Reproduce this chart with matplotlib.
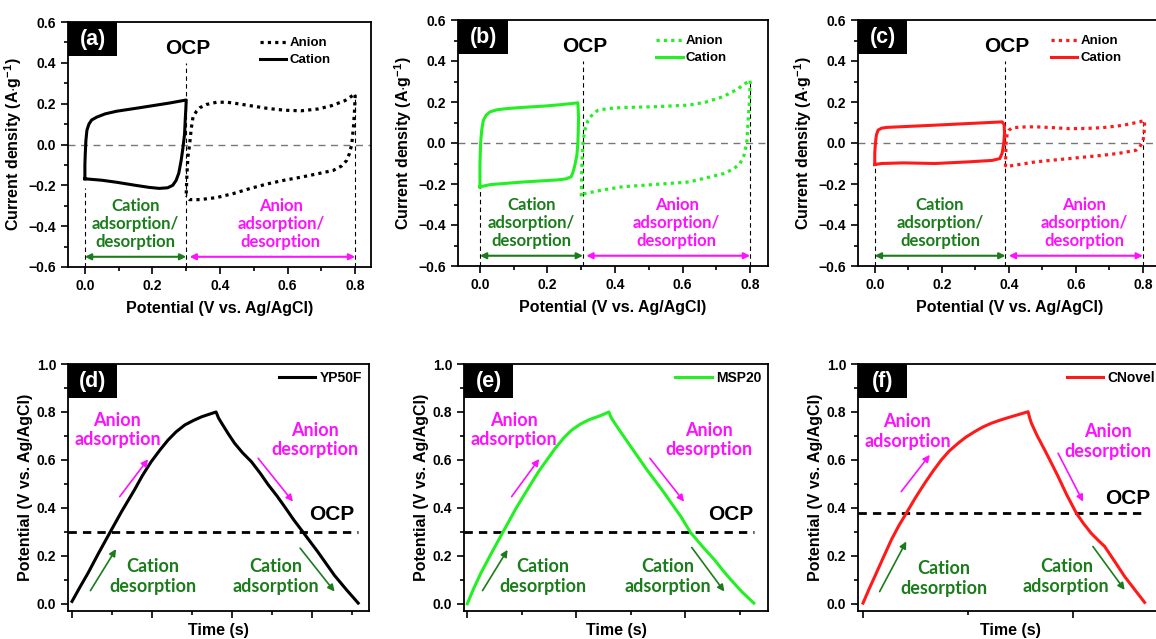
import numpy as np
import matplotlib.pyplot as plt
from matplotlib.ticker import MultipleLocator, AutoMinorLocator, NullFormatter
from matplotlib.patches import Rectangle

plt.rcParams['font.family'] = ['Liberation Sans', 'DejaVu Sans']
plt.rcParams['font.weight'] = 'bold'
plt.rcParams['axes.labelweight'] = 'bold'
plt.rcParams['mathtext.fontset'] = 'custom'
plt.rcParams['mathtext.rm'] = 'Liberation Sans:bold'
plt.rcParams['mathtext.bf'] = 'Liberation Sans:bold'
plt.rcParams['mathtext.it'] = 'Liberation Sans:bold'

NOTE_FONT = ['Lato', 'DejaVu Sans']
DKGREEN = '#1b7c1b'
MAGENTA = '#ff10ff'

# ---- CV data (potential V, current A/g), closed loops ----
a_cat_v = [0.0, 0.0, 0.001, 0.003, 0.006, 0.012, 0.02, 0.035, 0.06, 0.094, 0.15, 0.2, 0.25, 0.3,
           0.299, 0.297, 0.295, 0.29, 0.285, 0.278, 0.27, 0.26, 0.245, 0.22, 0.19, 0.15, 0.094, 0.05, 0.0]
a_cat_i = [-0.168, -0.1, -0.05, 0.02, 0.07, 0.10, 0.12, 0.134, 0.15, 0.163, 0.177, 0.19, 0.203, 0.218,
           0.18, 0.12, 0.05, -0.02, -0.078, -0.14, -0.176, -0.2, -0.212, -0.215, -0.21, -0.2, -0.185, -0.175, -0.168]
a_an_v = [0.30, 0.302, 0.305, 0.31, 0.315, 0.32, 0.33, 0.34, 0.36, 0.39, 0.42, 0.44, 0.49, 0.54, 0.59,
          0.64, 0.69, 0.73, 0.77, 0.8, 0.8, 0.798, 0.795, 0.79, 0.783, 0.775, 0.76, 0.735, 0.69, 0.64,
          0.59, 0.54, 0.49, 0.44, 0.39, 0.34, 0.31, 0.30]
a_an_i = [-0.24, -0.15, -0.06, 0.0, 0.08, 0.134, 0.162, 0.18, 0.196, 0.207, 0.207, 0.203, 0.19, 0.177,
          0.168, 0.165, 0.174, 0.19, 0.215, 0.248, 0.23, 0.16, 0.085, 0.0, -0.045, -0.078, -0.105, -0.127,
          -0.143, -0.16, -0.175, -0.193, -0.215, -0.24, -0.26, -0.27, -0.27, -0.25]

b_cat_v = [0.0, 0.0, 0.002, 0.005, 0.01, 0.018, 0.03, 0.05, 0.08, 0.13, 0.19, 0.24, 0.29, 0.292,
           0.291, 0.29, 0.287, 0.28, 0.275, 0.27, 0.255, 0.23, 0.13, 0.03, 0.0]
b_cat_i = [-0.214, -0.1, 0.0, 0.06, 0.11, 0.135, 0.152, 0.162, 0.168, 0.174, 0.18, 0.187, 0.196, 0.128,
           0.05, 0.0, -0.06, -0.116, -0.145, -0.165, -0.175, -0.18, -0.19, -0.203, -0.214]
b_an_v = [0.30, 0.301, 0.302, 0.305, 0.31, 0.32, 0.335, 0.35, 0.38, 0.42, 0.52, 0.62, 0.67, 0.72, 0.76,
          0.8, 0.8, 0.798, 0.795, 0.79, 0.782, 0.77, 0.75, 0.72, 0.67, 0.62, 0.52, 0.42, 0.36, 0.31, 0.30]
b_an_i = [-0.26, -0.17, -0.1, 0.0, 0.06, 0.11, 0.143, 0.16, 0.168, 0.173, 0.177, 0.185, 0.2, 0.226, 0.26,
          0.307, 0.29, 0.2, 0.128, 0.0, -0.06, -0.1, -0.128, -0.15, -0.17, -0.19, -0.202, -0.214, -0.23, -0.247, -0.26]

c_cat_v = [0.0, 0.0, 0.002, 0.005, 0.01, 0.02, 0.035, 0.1, 0.18, 0.28, 0.38, 0.386, 0.387, 0.385,
           0.38, 0.373, 0.35, 0.28, 0.18, 0.085, 0.02, 0.0]
c_cat_i = [-0.105, -0.05, 0.0, 0.04, 0.063, 0.072, 0.076, 0.081, 0.087, 0.095, 0.103, 0.09, 0.046, 0.0,
           -0.05, -0.076, -0.085, -0.092, -0.1, -0.097, -0.1, -0.105]
c_an_v = [0.39, 0.391, 0.392, 0.395, 0.40, 0.41, 0.44, 0.48, 0.53, 0.58, 0.63, 0.68, 0.74, 0.79, 0.805,
          0.805, 0.803, 0.8, 0.79, 0.78, 0.73, 0.68, 0.58, 0.48, 0.40, 0.39]
c_an_i = [-0.116, -0.05, 0.0, 0.046, 0.062, 0.074, 0.078, 0.079, 0.075, 0.07, 0.071, 0.075, 0.086, 0.103,
          0.11, 0.08, 0.04, 0.005, -0.02, -0.035, -0.05, -0.06, -0.076, -0.092, -0.113, -0.116]

ocp_cv = [0.3, 0.305, 0.39]

# ---- GCD data (time in tick units, potential V) ----
d_t = [0.0, 0.1, 0.2, 0.33, 0.47, 0.62, 0.78, 0.88, 0.99, 1.1, 1.2, 1.3, 1.41, 1.52, 1.62, 1.71, 1.80,
       1.83, 1.87, 1.95, 2.03, 2.13, 2.24, 2.35, 2.45, 2.56, 2.66, 2.77, 2.89, 2.98, 3.07, 3.18, 3.28, 3.43, 3.575]
d_v = [0.01, 0.07, 0.128, 0.21, 0.295, 0.385, 0.475, 0.535, 0.593, 0.642, 0.683, 0.717, 0.746, 0.765, 0.78,
       0.79, 0.8, 0.775, 0.753, 0.71, 0.67, 0.63, 0.593, 0.545, 0.497, 0.45, 0.403, 0.35, 0.297, 0.257, 0.217,
       0.165, 0.118, 0.058, 0.003]
e_t = [0.0, 0.06, 0.125, 0.22, 0.325, 0.45, 0.584, 0.66, 0.737, 0.81, 0.89, 0.96, 1.04, 1.12, 1.195, 1.25, 1.30,
       1.315, 1.333, 1.41, 1.50, 1.575, 1.65, 1.73, 1.81, 1.885, 1.96, 2.05, 2.16, 2.27, 2.345, 2.42, 2.52, 2.63]
e_v = [0.0, 0.065, 0.128, 0.21, 0.297, 0.40, 0.50, 0.555, 0.604, 0.65, 0.694, 0.725, 0.75, 0.768, 0.78, 0.79, 0.8,
       0.782, 0.767, 0.715, 0.656, 0.607, 0.558, 0.51, 0.461, 0.412, 0.364, 0.297, 0.238, 0.183, 0.14, 0.1, 0.05, 0.003]
f_t = [0.0, 0.028, 0.056, 0.095, 0.135, 0.17, 0.206, 0.25, 0.294, 0.333, 0.373, 0.41, 0.452, 0.49, 0.532, 0.57,
       0.611, 0.65, 0.69, 0.74, 0.786, 0.794, 0.802, 0.83, 0.865, 0.897, 0.929, 0.97, 1.016, 1.05, 1.087, 1.12,
       1.151, 1.2, 1.246, 1.295, 1.341]
f_v = [0.003, 0.06, 0.114, 0.19, 0.267, 0.325, 0.378, 0.443, 0.503, 0.553, 0.6, 0.637, 0.669, 0.695, 0.718, 0.737,
       0.753, 0.765, 0.776, 0.789, 0.801, 0.775, 0.753, 0.70, 0.642, 0.587, 0.531, 0.455, 0.378, 0.335, 0.294, 0.265,
       0.239, 0.175, 0.114, 0.058, 0.006]
ocp_gcd = [0.3, 0.3, 0.38]
samples = ['YP50F', 'MSP20', 'CNovel']
colors = ['black', '#22f022', '#ff1a1a']

W, H = 1156, 639
fig = plt.figure(figsize=(W / 100, H / 100), dpi=100)


def px_axes(left, top, right, bottom):
    return fig.add_axes([left / W, 1 - bottom / H, (right - left) / W, (bottom - top) / H])


def panel_tag(ax, tag):
    ax.add_patch(Rectangle((0, 0.862), 0.162, 0.138, transform=ax.transAxes,
                           facecolor='black', edgecolor='none', zorder=5, clip_on=False))
    ax.text(0.081, 0.93, tag, transform=ax.transAxes, color='white', fontsize=15.5,
            fontweight='bold', ha='center', va='center', zorder=6)


def style_axes(ax):
    ax.tick_params(which='both', direction='out', top=False, right=False, width=1.2)
    ax.tick_params(which='major', length=5, labelsize=10)
    ax.tick_params(which='minor', length=3)
    for s in ax.spines.values():
        s.set_linewidth(1.3)


cv_sets = [(a_cat_v, a_cat_i, a_an_v, a_an_i), (b_cat_v, b_cat_i, b_an_v, b_an_i),
           (c_cat_v, c_cat_i, c_an_v, c_an_i)]
cv_boxes = [(68, 22, 371, 267), (458, 20, 768, 266), (858, 20, 1162, 266)]
cv_xlim = [(-0.05, 0.847), (-0.065, 0.853), (-0.05, 0.857)]

for k in range(3):
    ax = px_axes(*cv_boxes[k])
    cv, ci, av, ai = cv_sets[k]
    col = colors[k]
    ocp = ocp_cv[k]
    ax.axhline(0, color='#777777', ls=(0, (5, 4)), lw=1.0, zorder=1)
    ax.plot([0, 0], [-0.6, min(ci)], color='black', ls=(0, (4, 3)), lw=0.8)
    ax.plot([ocp, ocp], [-0.6, 0.4], color='black', ls=(0, (4, 3)), lw=0.8)
    ax.plot([0.8, 0.8], [-0.6, max(ai)], color='black', ls=(0, (4, 3)), lw=0.8)
    ax.plot(av, ai, color=col, ls=(0, (1, 1.3)), lw=2.3, label='Anion')
    ax.plot(cv, ci, color=col, ls='-', lw=2.2, label='Cation')
    ax.annotate('', xy=(0.0, -0.55), xytext=(ocp, -0.55),
                arrowprops=dict(arrowstyle='<|-|>', color=DKGREEN, lw=1.5, mutation_scale=9,
                                shrinkA=0, shrinkB=0))
    ax.annotate('', xy=(ocp + 0.01, -0.55), xytext=(0.8, -0.55),
                arrowprops=dict(arrowstyle='<|-|>', color=MAGENTA, lw=1.5, mutation_scale=9,
                                shrinkA=0, shrinkB=0))
    ax.text(ocp / 2, -0.39, 'Cation\nadsorption/\ndesorption', color=DKGREEN, ha='center',
            va='center', fontsize=12, family=NOTE_FONT, fontweight='bold', linespacing=1.15)
    ax.text((ocp + 0.8) / 2 + 0.03, -0.39, 'Anion\nadsorption/\ndesorption', color=MAGENTA,
            ha='center', va='center', fontsize=12, family=NOTE_FONT, fontweight='bold',
            linespacing=1.15)
    ax.text(ocp + 0.005, 0.47, 'OCP', ha='center', va='center', fontsize=15, fontweight='bold')
    ax.set_xlim(*cv_xlim[k])
    ax.set_ylim(-0.6, 0.6)
    ax.xaxis.set_major_locator(MultipleLocator(0.2))
    ax.xaxis.set_minor_locator(AutoMinorLocator(2))
    ax.yaxis.set_major_locator(MultipleLocator(0.2))
    ax.yaxis.set_minor_locator(AutoMinorLocator(2))
    ax.set_xlabel('Potential (V vs. Ag/AgCl)', fontsize=11.5, labelpad=6)
    ax.set_ylabel(r'Current density (A$\cdot$g$^{-1}$)', fontsize=11.5, labelpad=3)
    style_axes(ax)
    ax.legend(loc='upper right', bbox_to_anchor=(0.885, 0.96), frameon=False,
              handlelength=2.0, handletextpad=0.25, labelspacing=0.35, borderaxespad=0,
              prop=dict(weight='bold', size=9.5))
    panel_tag(ax, '(' + 'abc'[k] + ')')

gcd_sets = [(d_t, d_v), (e_t, e_v), (f_t, f_v)]
gcd_boxes = [(68, 364, 369, 611), (464, 364, 768, 611), (858, 364, 1162, 611)]
gcd_xlim = [(-0.05, 3.71), (-0.03, 2.76), (-0.024, 1.424)]
gcd_notes = [
    # anion ads, anion des, OCP, cation des, cation ads
    [(0.567, 0.725), (3.03, 0.683), (3.24, 0.371), (1.01, 0.114), (2.55, 0.114)],
    [(0.425, 0.725), (2.22, 0.683), (2.42, 0.371), (0.69, 0.114), (1.84, 0.114)],
    [(0.211, 0.718), (1.167, 0.676), (1.262, 0.44), (0.386, 0.107), (0.968, 0.114)],
]
gcd_arrows = [
    [((0.596, 0.447), (0.95, 0.603)), ((2.325, 0.607), (2.76, 0.426)),
     ((0.23, 0.055), (0.55, 0.228)), ((2.85, 0.232), (3.28, 0.051))],
    [((0.407, 0.447), (0.66, 0.604)), ((1.676, 0.607), (1.99, 0.426)),
     ((0.14, 0.055), (0.37, 0.225)), ((2.06, 0.235), (2.36, 0.051))],
    [((0.182, 0.468), (0.318, 0.621)), ((0.929, 0.628), (1.048, 0.426)),
     ((0.079, 0.051), (0.206, 0.26)), ((1.095, 0.239), (1.246, 0.058))],
]
note_texts = ['Anion\nadsorption', 'Anion\ndesorption', 'OCP', 'Cation\ndesorption', 'Cation\nadsorption']
note_cols = [MAGENTA, MAGENTA, 'black', DKGREEN, DKGREEN]

for k in range(3):
    ax = px_axes(*gcd_boxes[k])
    t, v = gcd_sets[k]
    ocp = ocp_gcd[k]
    ax.plot([gcd_xlim[k][0], t[-1]], [ocp, ocp], color='black', ls=(0, (3, 2.2)), lw=2.0, zorder=1)
    ax.plot(t, v, color=colors[k], lw=2.2, label=samples[k], zorder=3)
    for (x, y), s, c in zip(gcd_notes[k], note_texts, note_cols):
        if s == 'OCP':
            ax.text(x, y, s, ha='center', va='center', fontsize=15, fontweight='bold')
        else:
            ax.text(x, y, s, color=c, ha='center', va='center', fontsize=13,
                    family=NOTE_FONT, fontweight='bold', linespacing=1.2)
    arr_cols = [MAGENTA, MAGENTA, DKGREEN, DKGREEN]
    for (p0, p1), c in zip(gcd_arrows[k], arr_cols):
        ax.annotate('', xy=p1, xytext=p0,
                    arrowprops=dict(arrowstyle='-|>', color=c, lw=1.2, mutation_scale=10,
                                    shrinkA=0, shrinkB=0))
    ax.set_xlim(*gcd_xlim[k])
    ax.set_ylim(-0.03, 1.0)
    ax.xaxis.set_major_locator(MultipleLocator(1.0))
    ax.xaxis.set_minor_locator(AutoMinorLocator(2))
    ax.xaxis.set_major_formatter(NullFormatter())
    ax.yaxis.set_major_locator(MultipleLocator(0.2))
    ax.yaxis.set_minor_locator(AutoMinorLocator(2))
    ax.set_xlabel('Time (s)', fontsize=11.5, labelpad=0)
    ax.set_ylabel('Potential (V vs. Ag/AgCl)', fontsize=11.5, labelpad=3)
    style_axes(ax)
    ax.legend(loc='upper right', frameon=False, handlelength=2.6, handletextpad=0.3,
              borderaxespad=0.1, prop=dict(weight='bold', size=10))
    panel_tag(ax, '(' + 'def'[k] + ')')

fig.savefig('out.png', dpi=100)
